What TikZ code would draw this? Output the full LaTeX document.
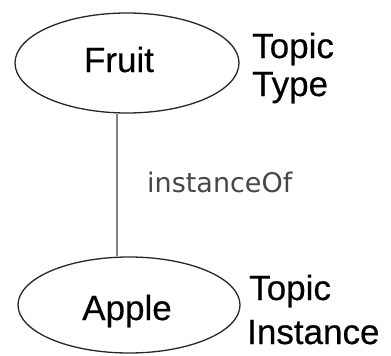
\documentclass[tikz,border=0pt]{standalone}
\usepackage{fontspec}
\setmainfont{Liberation Sans}[FakeBold=0.4]
\newfontfamily\heavyfont{Liberation Sans}[FakeBold=0.4]
\newfontfamily\relfont{DejaVu Sans}
\usetikzlibrary{shapes.geometric}

\tikzset{
  topic/.style={ellipse, draw=black!85, line width=1.3pt, inner sep=0pt},
  topicname/.style={inner sep=0pt, anchor=base, font=\heavyfont\fontsize{35}{38}\selectfont},
  kindlabel/.style={inner sep=0pt, anchor=base west, font=\heavyfont\fontsize{35}{38}\selectfont},
  relname/.style={inner sep=0pt, anchor=base west, font=\relfont\fontsize{27}{30}\selectfont, text=black!72},
  relation/.style={draw=black!50, line width=2.6pt}
}

\begin{document}
\begin{tikzpicture}[x=1pt, y=-1pt]
  \useasboundingbox (0,0) rectangle (391,356);

  % the two topics
  \node[topic, minimum width=224pt, minimum height=100pt] (fruit) at (127,63) {};
  \node[topicname] (fruitname) at (119,72) {Fruit};
  \node[topic, minimum width=222pt, minimum height=96pt] (apple) at (129,305) {};
  \node[topicname] (applename) at (127,320) {Apple};

  % what each topic is
  \node[kindlabel] (typeA) at (252,58) {Topic};
  \node[kindlabel] (typeB) at (252,96) {Type};
  \node[kindlabel] (instA) at (249,300) {Topic};
  \node[kindlabel] (instB) at (247,344) {Instance};

  % association between them
  \coordinate (axis) at (117,0);
  \draw[relation] (axis |- fruit.south) -- (axis |- apple.north);
  \node[relname] (rel) at (147,192) {instanceOf};
\end{tikzpicture}
\end{document}
